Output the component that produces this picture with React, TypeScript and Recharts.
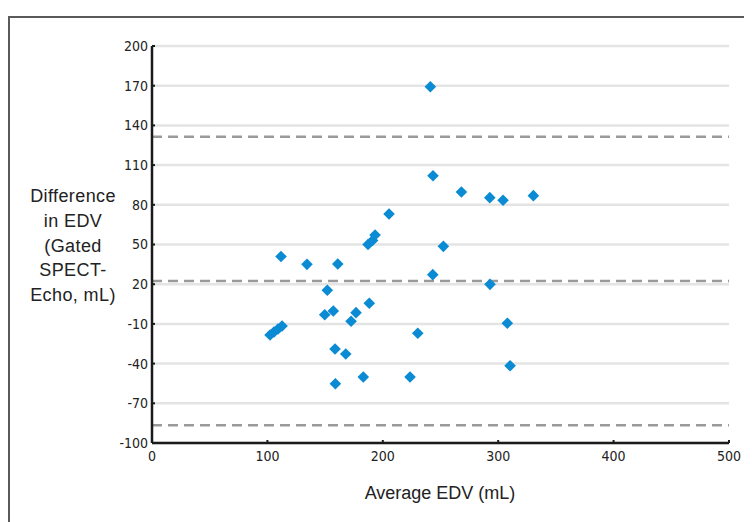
import { CartesianGrid, ReferenceLine, Scatter, ScatterChart, XAxis, YAxis } from "recharts";

const avgEdv = [
  241.2, 243.5, 268.1, 292.7, 304.2, 330.5, 205.4, 187.2, 191.1, 193.3, 252.5, 111.8,
  134.3, 161.0, 243.3, 151.9, 292.9, 188.3, 149.7, 157.1, 176.8, 172.5, 307.9, 102.3,
  105.7, 109.2, 112.7, 230.3, 158.6, 167.9, 310.3, 183.1, 223.6, 158.9,
];
const diffEdv = [
  169.2, 102.0, 89.7, 85.4, 83.4, 86.9, 73.0, 50.0, 53.0, 57.2, 48.6, 40.9,
  35.0, 35.3, 27.2, 15.4, 19.9, 5.6, -3.1, -0.3, -1.5, -8.0, -9.5, -18.4,
  -16.1, -13.9, -11.6, -17.1, -29.0, -32.7, -41.6, -50.1, -50.1, -55.2,
];
const xTicks = [0, 100, 200, 300, 400, 500];
const yTicks = [-100, -70, -40, -10, 20, 50, 80, 110, 140, 170, 200];
const limits = [131.5, 22.4, -86.6];
const yTitle = ["Difference", "in EDV", "(Gated", "SPECT-", "Echo, mL)"];
const xTitle = "Average EDV (mL)";

const data = avgEdv.map((x, i) => ({ x, y: diffEdv[i] }));

const BLUE = "#0a8bd3";
const tickFont = "'Liberation Sans Narrow', 'DejaVu Sans Condensed', sans-serif";
const titleFont = "'Liberation Sans', Arial, sans-serif";

function Diamond(props: any) {
  const { cx, cy } = props;
  const r = 5.8;
  return (
    <polygon
      points={`${cx},${cy - r} ${cx + r},${cy} ${cx},${cy + r} ${cx - r},${cy}`}
      fill={BLUE}
    />
  );
}

export default function App() {
  return (
    <div style={{ position: "relative", width: 744, height: 514, overflow: "hidden" }}>
      <div
        style={{
          position: "absolute",
          left: 0,
          top: 8,
          width: 800,
          height: 600,
          borderTop: "2px solid #5a5a5a",
          borderLeft: "2px solid #5a5a5a",
        }}
      />
      <ScatterChart
        width={744}
        height={514}
        margin={{ top: 38, right: 23, bottom: 49, left: 84 }}
        style={{ position: "absolute", left: 0, top: 0 }}
      >
        <CartesianGrid horizontal vertical={false} stroke="#e4e4e4" strokeWidth={2.5} />
        <XAxis
          type="number"
          dataKey="x"
          domain={[0, 500]}
          ticks={xTicks}
          height={30}
          axisLine={{ stroke: "#1a1a1a", strokeWidth: 2.5 }}
          tickLine={{ stroke: "#1a1a1a", strokeWidth: 2 }}
          tickSize={-3}
          tickMargin={11}
          tick={{ fill: "#222", fontSize: 14, fontFamily: tickFont }}
          label={{
            content: () => (
              <text x={432} y={491} textAnchor="middle" fill="#222" fontSize={18} fontFamily={titleFont}>
                {xTitle}
              </text>
            ),
          }}
        />
        <YAxis
          type="number"
          dataKey="y"
          domain={[-100, 200]}
          ticks={yTicks}
          width={60}
          axisLine={{ stroke: "#1a1a1a", strokeWidth: 2.5 }}
          tickLine={{ stroke: "#1a1a1a", strokeWidth: 2 }}
          tickSize={-3}
          tickMargin={7}
          tick={{ fill: "#222", fontSize: 14, fontFamily: tickFont }}
          label={{
            content: () => (
              <text textAnchor="middle" fill="#222" fontSize={18} fontFamily={titleFont} letterSpacing={0.4}>
                {yTitle.map((line, i) => (
                  <tspan key={line} x={65} y={194 + i * 24.8}>
                    {line}
                  </tspan>
                ))}
              </text>
            ),
          }}
        />
        {limits.map((v) => (
          <ReferenceLine key={v} y={v} stroke="#9a9a9a" strokeWidth={2.5} strokeDasharray="10 6" />
        ))}
        <Scatter data={data} shape={Diamond} isAnimationActive={false} />
      </ScatterChart>
    </div>
  );
}
